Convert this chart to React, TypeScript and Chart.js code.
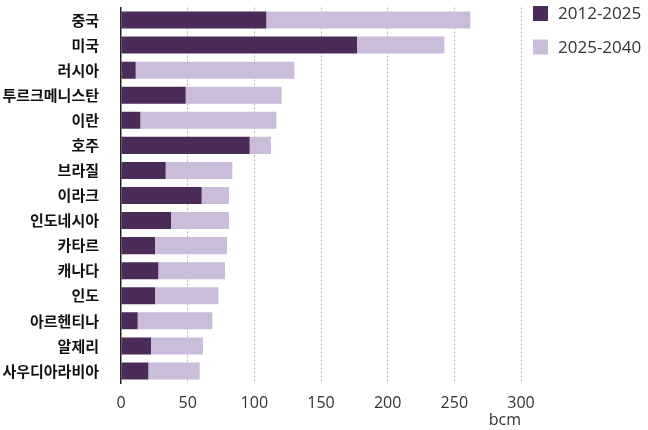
import React, { useEffect, useRef } from "react";
import { Chart, registerables } from "chart.js";

Chart.register(...registerables);

const countries = [
  "중국", "미국", "러시아", "투르크메니스탄", "이란", "호주", "브라질", "이라크",
  "인도네시아", "카타르", "캐나다", "인도", "아르헨티나", "알제리", "사우디아라비아",
];
const series1Label = "2012-2025";
const series2Label = "2025-2040";
const growth2012to2025 = [109, 177, 11, 48.5, 14.5, 96.5, 33.5, 60.5, 37.5, 25.5, 28, 25.5, 12.5, 22.5, 20.5];
const growth2025to2040 = [153, 65.5, 119, 72, 102, 16, 50, 20.5, 43.5, 54, 50, 47.5, 56, 39, 38.5];
const xTicks = [0, 50, 100, 150, 200, 250, 300];
const xTitle = "bcm";

const DARK = "#4b2c58";
const LIGHT = "#c9bdd9";

const sideLegend = {
  id: "sideLegend",
  afterDraw(chart: any) {
    const ctx = chart.ctx;
    ctx.save();
    ctx.font = "17px 'Open Sans'";
    ctx.textBaseline = "middle";
    ctx.textAlign = "left";
    chart.data.datasets.forEach((ds: any, i: number) => {
      const cy = 13.5 + i * 33.5;
      ctx.fillStyle = ds.backgroundColor;
      ctx.fillRect(533, cy - 7.5, 15, 15);
      ctx.fillStyle = "#333";
      ctx.fillText(ds.label, 558, cy + 1);
    });
    ctx.restore();
  },
};

export default function App() {
  const ref = useRef<HTMLCanvasElement | null>(null);
  useEffect(() => {
    document.body.style.margin = "0";
    const ctx = ref.current!.getContext("2d")!;
    const chart = new Chart(ctx, {
      type: "bar",
      data: {
        labels: countries,
        datasets: [
          { label: series1Label, data: growth2012to2025, backgroundColor: DARK, borderWidth: 0, barPercentage: 0.7, categoryPercentage: 0.97 },
          { label: series2Label, data: growth2025to2040, backgroundColor: LIGHT, borderWidth: 0, barPercentage: 0.7, categoryPercentage: 0.97 },
        ],
      },
      plugins: [sideLegend],
      options: {
        indexAxis: "y",
        responsive: false,
        animation: false,
        layout: { padding: { top: 7.5, left: 0, right: 127, bottom: 0 } },
        plugins: {
          tooltip: { enabled: false },
          legend: { display: false },
        },
        scales: {
          x: {
            stacked: true,
            min: 0,
            max: 300,
            afterBuildTicks: (s: any) => { s.ticks = xTicks.map((v) => ({ value: v })); },
            grid: {
              color: (c: any) => (c.tick && c.tick.value === 0 ? "rgba(0,0,0,0)" : "#b5b5b5"),
              drawTicks: false,
              lineWidth: 1,
            },
            border: { display: false, dash: [2, 2] },
            ticks: { color: "#333", padding: 10, font: { family: "'Open Sans'", size: 16 } },
            title: { display: true, text: xTitle, align: "end", color: "#333", padding: { top: 1, bottom: 0 }, font: { family: "'Open Sans'", size: 16 } },
            afterFit: (s: any) => { s.height = 46.5; s.paddingLeft = 0; s.paddingRight = 0; },
          },
          y: {
            stacked: true,
            grid: { display: false, drawTicks: false },
            border: { display: true, color: "#222", width: 1.5 },
            ticks: { color: "#111", padding: 22, font: { family: "'Noto Sans CJK KR'", size: 15, weight: "bold" } },
            afterFit: (s: any) => { s.width = 121; s.paddingTop = 0; s.paddingBottom = 0; },
          },
        },
      },
    });
    return () => chart.destroy();
  }, []);
  return (
    <div style={{ width: 648, height: 430 }}>
      <canvas ref={ref} width={648} height={430} />
    </div>
  );
}
